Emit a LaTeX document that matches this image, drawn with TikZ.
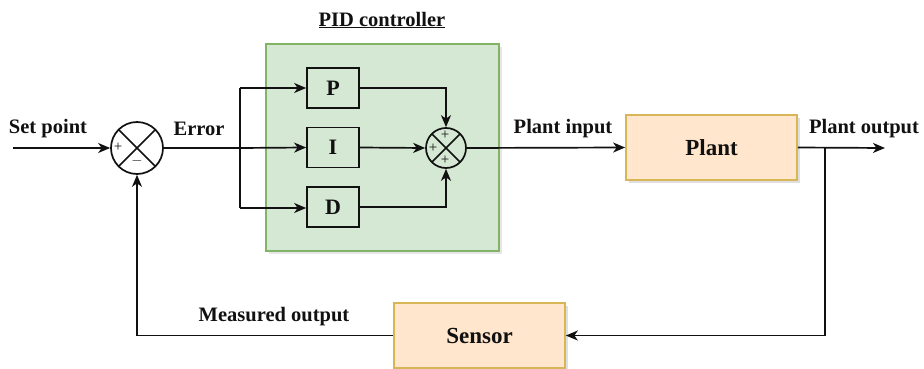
\documentclass[tikz,border=0pt]{standalone}
\usepackage{fontspec}
\setmainfont{Liberation Serif}
\usetikzlibrary{arrows.meta,shadows,calc}
\definecolor{pidfill}{HTML}{D5E8D4}
\definecolor{piddraw}{HTML}{82B366}
\definecolor{orfill}{HTML}{FFE6CC}
\definecolor{ordraw}{HTML}{D6B656}
\definecolor{ln}{HTML}{111111}
\begin{document}
\begin{tikzpicture}[x=1pt,y=-1pt,
  every node/.style={font=\fontsize{20.5}{24}\selectfont\bfseries, text=ln},
  conn/.style={draw=ln, line width=1.7pt},
  arr/.style={conn, -{Stealth[length=12pt,width=10pt,inset=3.5pt]}},
  sumnode/.style={circle, draw=ln, line width=1.7pt, inner sep=0pt},
  smallbox/.style={rectangle, draw=ln, line width=1.7pt, minimum width=52pt, minimum height=40pt, inner sep=0pt, font=\fontsize{22}{26}\selectfont\bfseries},
  bigbox/.style={rectangle, draw=ordraw, fill=orfill, line width=1.7pt, minimum width=171pt, minimum height=65pt, inner sep=0pt, font=\fontsize{23}{27}\selectfont\bfseries, drop shadow={opacity=0.25, shadow xshift=3pt, shadow yshift=-3pt}},
  lbl/.style={inner sep=0pt},
  sign/.style={inner sep=0pt, font=\fontsize{15}{16}\selectfont}
]
\useasboundingbox (0,0) rectangle (924,369);

% PID controller background
\node[rectangle, draw=piddraw, fill=pidfill, line width=1.7pt, minimum width=233pt, minimum height=207pt, inner sep=0pt,
  drop shadow={opacity=0.2, shadow xshift=3pt, shadow yshift=-3pt}] (pidbg) at (382.5,147.5) {};
\node[lbl] (pidlbl) at (382,20) {\underline{PID controller}};

% nodes
\node[sumnode, minimum size=52pt] (sum1) at (137,148) {};
\draw[conn] ($(sum1.center)+(-18.4,-18.4)$) -- ($(sum1.center)+(18.4,18.4)$);
\draw[conn] ($(sum1.center)+(-18.4,18.4)$) -- ($(sum1.center)+(18.4,-18.4)$);
\node[sign] (s1p) at (118,147) {+};
\node[sign] (s1m) at (137,161) {$-$};

\node[smallbox] (P) at (333,88) {P};
\node[smallbox] (I) at (333,147.5) {I};
\node[smallbox] (D) at (333,207) {D};

\node[sumnode, minimum size=40pt] (sum2) at (446,148) {};
\draw[conn] ($(sum2.center)+(-14.1,-14.1)$) -- ($(sum2.center)+(14.1,14.1)$);
\draw[conn] ($(sum2.center)+(-14.1,14.1)$) -- ($(sum2.center)+(14.1,-14.1)$);
\node[sign] (s2t) at (445,135) {+};
\node[sign] (s2l) at (433,148) {+};
\node[sign] (s2b) at (445,160) {+};

\node[bigbox] (plant) at (711.5,147.5) {Plant};
\node[bigbox] (sensor) at (479.5,335.5) {Sensor};

% labels
\node[lbl] (setpt) at (48,129) {Set point};
\node[lbl] (err) at (199,129) {Error};
\node[lbl] (pin) at (563,129) {Plant input};
\node[lbl] (pout) at (864,129) {Plant output};
\node[lbl] (meas) at (274,317) {Measured output};

% coordinates
\coordinate (start) at (13,148);
\coordinate (j) at (240,148);
\coordinate (jp) at (240,88);
\coordinate (jd) at (240,208);
\coordinate (outend) at (885,148);
\coordinate (br) at (825,148);

% connectors
\draw[arr] (start) -- (sum1.west);
\draw[conn] (sum1.east) -- (j);
\draw[conn] (jp) -- (jd);
\draw[arr] (j) -- (I.west);
\draw[arr] (jp) -- (P.west);
\draw[arr] (jd) -- (D.west |- jd);
\draw[arr] (P.east) -| (sum2.north);
\draw[arr] (I.east) -- (sum2.west);
\draw[arr] (D.east) -| (sum2.south);
\draw[arr] (sum2.east) -- (plant.west);
\draw[arr] (plant.east) -- (outend);
\draw[arr] (br) |- (sensor.east);
\draw[arr] (sensor.west) -| (sum1.south);
\end{tikzpicture}
\end{document}
